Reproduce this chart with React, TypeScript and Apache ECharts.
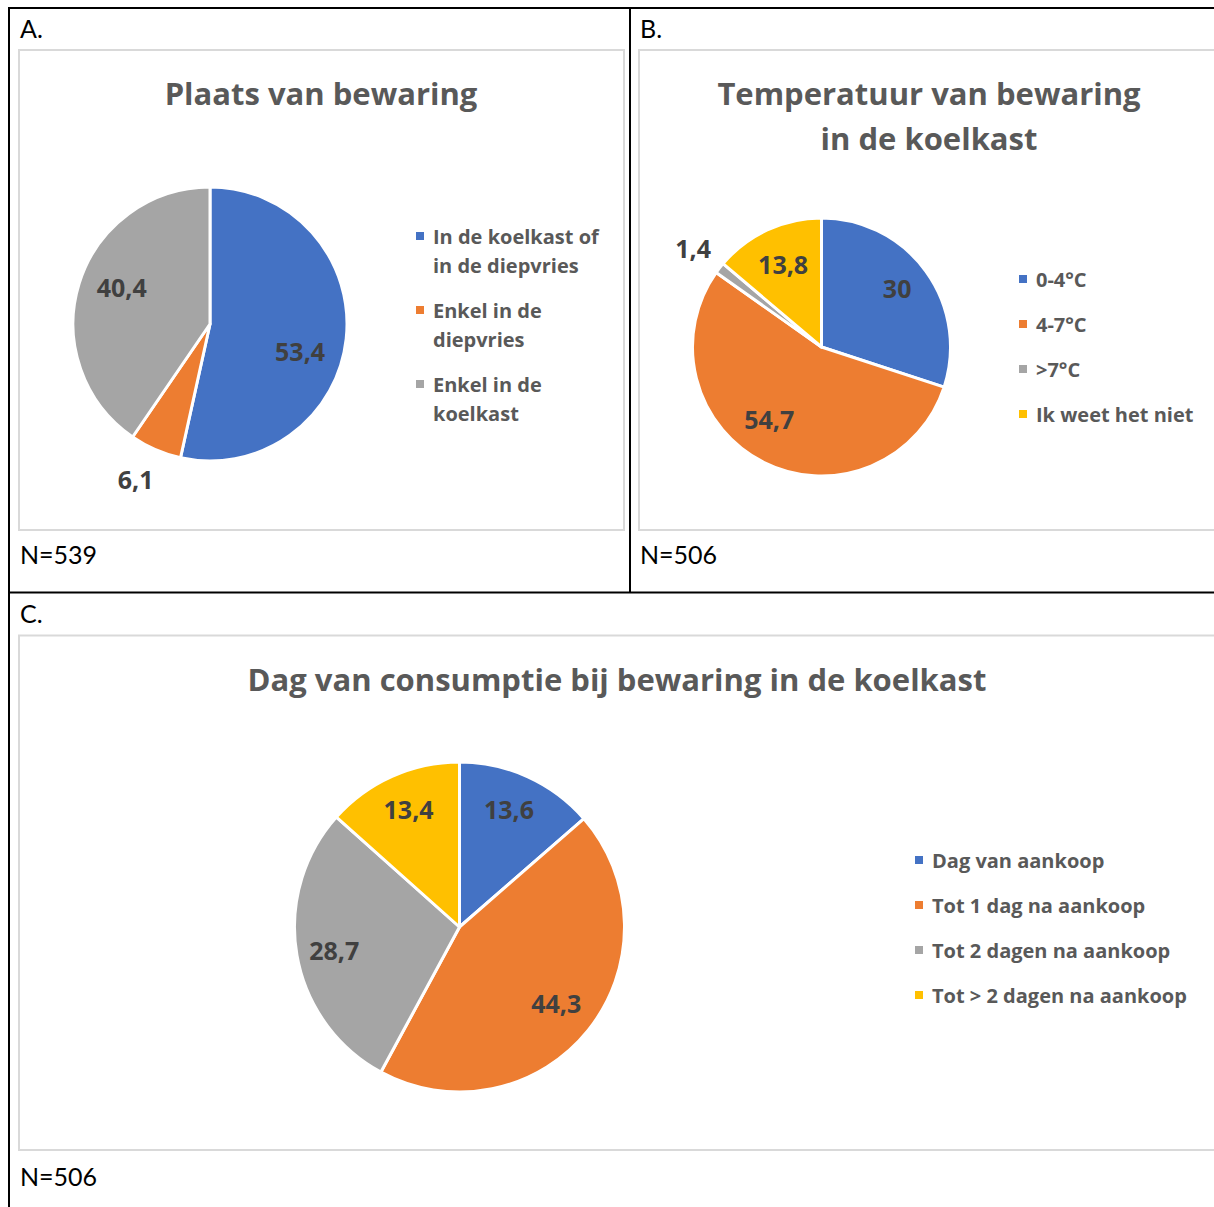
import React, { useEffect, useRef } from "react";
import * as echarts from "echarts";

const COLORS = ["#4472C4", "#ED7D31", "#A5A5A5", "#FFC000"];

const placeCategories = ["In de koelkast of in de diepvries", "Enkel in de diepvries", "Enkel in de koelkast"];
const placeLegendLabels = ["In de koelkast of\nin de diepvries", "Enkel in de\ndiepvries", "Enkel in de\nkoelkast"];
const placeValues = [53.4, 6.1, 40.4];

const tempCategories = ["0-4°C", "4-7°C", ">7°C", "Ik weet het niet"];
const tempValues = [30, 54.7, 1.4, 13.8];

const dayCategories = ["Dag van aankoop", "Tot 1 dag na aankoop", "Tot 2 dagen na aankoop", "Tot > 2 dagen na aankoop"];
const dayValues = [13.6, 44.3, 28.7, 13.4];

const panelLetters = ["A.", "B.", "C."];
const sampleSizes = ["N=539", "N=506", "N=506"];
const chartTitles = ["Plaats van bewaring", "Temperatuur van bewaring\nin de koelkast", "Dag van consumptie bij bewaring in de koelkast"];

const FONT = "Lato, 'Open Sans', sans-serif";
const BOLD_FONT = "'Open Sans', 'Noto Sans', sans-serif";
const TITLE_COLOR = "#595959";
const LABEL_COLOR = "#404040";

// label offsets relative to ECharts' inside position (layout only)
const offsetsA = [[19, 19], [-46, 89], [-20, -16]];
const offsetsB = [[21, -19], [-22, 12], [-75, -58], [-10, -22]];
const offsetsC = [[14, -40], [30, 23], [-41, 8], [-16, -40]];

function fmt(v: number) {
  return String(v).replace(".", ",");
}

function makePie(names: string[], values: number[], center: [number, number], radius: number, offsets: number[][]) {
  return {
    type: "pie",
    center,
    radius,
    startAngle: 90,
    clockwise: true,
    avoidLabelOverlap: false,
    silent: true,
    emphasis: { disabled: true },
    itemStyle: { borderColor: "#ffffff", borderWidth: 3 },
    label: {
      show: true,
      position: "inside",
      formatter: (p: any) => fmt(p.value),
      fontFamily: BOLD_FONT,
      fontWeight: "bold",
      fontSize: 25,
      color: LABEL_COLOR,
    },
    labelLine: { show: false },
    labelLayout: (p: any) => ({ dx: offsets[p.dataIndex][0], dy: offsets[p.dataIndex][1] }),
    data: names.map((n, i) => ({ name: n, value: values[i], itemStyle: { color: COLORS[i] } })),
  };
}

function txt(text: string, x: number, y: number, size: number, bold: boolean, color: string, align = "left", lineHeight?: number) {
  return {
    type: "text",
    x,
    y,
    silent: true,
    style: {
      text,
      align,
      verticalAlign: "middle",
      fontFamily: bold ? BOLD_FONT : FONT,
      fontSize: size,
      fontWeight: bold ? "bold" : "normal",
      fill: color,
      lineHeight: lineHeight || size * 1.2,
    },
  };
}

function ln(x1: number, y1: number, x2: number, y2: number) {
  return { type: "line", silent: true, shape: { x1, y1, x2, y2 }, style: { stroke: "#000000", lineWidth: 2 } };
}

function frame(x: number, y: number, w: number, h: number) {
  return { type: "rect", silent: true, shape: { x, y, width: w, height: h }, style: { fill: "none", stroke: "#D9D9D9", lineWidth: 2 } };
}

export default function App() {
  const ref = useRef<HTMLDivElement>(null);
  useEffect(() => {
    if (!ref.current) return;
    const chart = echarts.init(ref.current, undefined, { renderer: "svg" });
    const legendText = {
      fontFamily: BOLD_FONT,
      fontWeight: "bold",
      fontSize: 20,
      color: TITLE_COLOR,
      lineHeight: 29,
      padding: [0, 0, 0, 4],
    };
    const legendCommon = {
      orient: "vertical",
      padding: 0,
      itemWidth: 8,
      selectedMode: false,
      itemStyle: { borderWidth: 0 },
      textStyle: legendText,
    };
    const option: any = {
      animation: false,
      backgroundColor: "#ffffff",
      legend: [
        {
          ...legendCommon,
          data: placeCategories,
          left: 416,
          top: 221.5,
          itemGap: 16,
          itemHeight: 37,
          // square at the top of a taller icon box, so it lines up with the first text line
          icon: "path://M0,0L8,0L8,8L0,8Z M0,37L0,37",
          formatter: (name: string) => placeLegendLabels[placeCategories.indexOf(name)],
        },
        {
          ...legendCommon,
          data: tempCategories,
          left: 1019,
          top: 264.5,
          itemGap: 16,
          itemHeight: 8,
          icon: "rect",
        },
        {
          ...legendCommon,
          data: dayCategories,
          left: 915,
          top: 845.5,
          itemGap: 16,
          itemHeight: 8,
          icon: "rect",
        },
      ],
      series: [
        makePie(placeCategories, placeValues, [210, 324], 137, offsetsA),
        makePie(tempCategories, tempValues, [821.5, 347], 129, offsetsB),
        makePie(dayCategories, dayValues, [459.5, 927], 165, offsetsC),
      ],
      graphic: [
        ln(8, 8, 1214, 8),
        ln(9, 8, 9, 1207),
        ln(630, 8, 630, 592.5),
        ln(8, 592.5, 1214, 592.5),
        frame(19, 50, 605, 480),
        frame(639, 50, 600, 480),
        frame(19, 635.5, 1220, 514.5),
        txt(panelLetters[0], 20, 28, 25, false, "#000000"),
        txt(panelLetters[1], 640, 28, 25, false, "#000000"),
        txt(panelLetters[2], 20, 613, 25, false, "#000000"),
        txt(sampleSizes[0], 20, 554, 25, false, "#000000"),
        txt(sampleSizes[1], 640, 554, 25, false, "#000000"),
        txt(sampleSizes[2], 20, 1176, 25, false, "#000000"),
        txt(chartTitles[0], 321, 93, 31, true, TITLE_COLOR, "center"),
        txt(chartTitles[1], 929, 115.5, 31, true, TITLE_COLOR, "center", 45),
        txt(chartTitles[2], 617, 679, 31, true, TITLE_COLOR, "center"),
      ],
    };
    chart.setOption(option);
    return () => chart.dispose();
  }, []);
  return (
    <div
      ref={ref}
      style={{ position: "fixed", left: 0, top: 0, width: 1214, height: 1207, background: "#fff" }}
    />
  );
}
